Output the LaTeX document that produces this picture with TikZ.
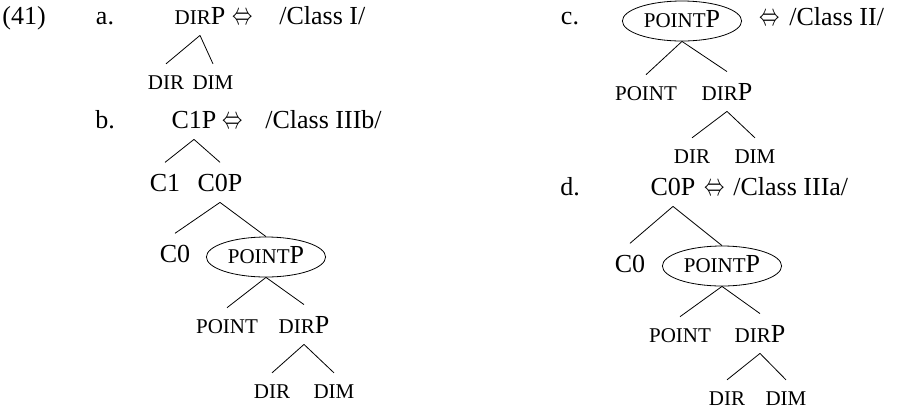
\documentclass[tikz,border=0pt]{standalone}
\usepackage{fontspec}
\setmainfont{Liberation Serif}
\usetikzlibrary{shapes.geometric,positioning}

\newcommand\fsc[1]{{\fontsize{10.5}{12}\selectfont #1}}
\newcommand\realizes{\scalebox{0.85}[1.3]{$\Leftrightarrow$}}

\begin{document}
\begin{tikzpicture}[
x=0.5pt,
y=-0.5pt,
font=\fontsize{13}{15}\selectfont,
every node/.style={
anchor=base,
inner xsep=1pt,
inner ysep=5.5pt,
text depth=0pt
},
circled/.style={
draw,
ellipse,
inner xsep=2pt,
inner ysep=0pt,
text height=6pt,
minimum height=20pt
},
iff/.style={inner sep=0pt},
cls/.style={anchor=base west, inner ysep=2pt}
]
\useasboundingbox (0,0) rectangle (902,409);

\node (ex) at (24,24) {(41)};

\node (la) at (105,24) {a.};
\node (a0) at (200,24) {\fsc{DIR}P};
\node[iff] (ai) at (243,24) {\realizes};
\node[cls] (ac) at (277,24) {/Class I/};
\node (a1) at (166,89) {\fsc{DIR}};
\node (a2) at (213,89) {\fsc{DIM}};

\draw (a0.south) -- (a1.north);
\draw (a0.south) -- (a2.north);

\node (lb) at (105,128) {b.};
\node (b0) at (194,128) {C1P};
\node[iff] (bi) at (233,128) {\realizes};
\node[cls] (bc) at (263,128) {/Class IIIb/};
\node (b1) at (165,191) {C1};
\node (b2) at (220,191) {C0P};
\node (b3) at (175,262) {C0};
\node[circled] (b4) at (266,263) {\fsc{POINT}P};
\node (b5) at (227,333) {\fsc{POINT}};
\node (b6) at (304,333) {\fsc{DIR}P};
\node (b7) at (272,398) {\fsc{DIR}};
\node (b8) at (334,398) {\fsc{DIM}};

\draw (b0.south) -- (b1.north);
\draw (b0.south) -- (b2.north);
\draw (b2.south) -- (b3.north);
\draw (b2.south) -- (b4.north);
\draw (b4.south) -- (b5.north);
\draw (b4.south) -- (b6.north);
\draw (b6.south) -- (b7.north);
\draw (b6.south) -- (b8.north);

\node (lc) at (570,24) {c.};
\node[circled] (c0) at (682,27) {\fsc{POINT}P};
\node[iff] (ci) at (770,25) {\realizes};
\node[cls] (cc) at (787,25) {/Class II/};
\node (c1) at (646,100) {\fsc{POINT}};
\node (c2) at (727,100) {\fsc{DIR}P};
\node (c3) at (692,163) {\fsc{DIR}};
\node (c4) at (755,163) {\fsc{DIM}};

\draw (c0.south) -- (c1.north);
\draw (c0.south) -- (c2.north);
\draw (c2.south) -- (c3.north);
\draw (c2.south) -- (c4.north);

\node (ld) at (570,195) {d.};
\node (d0) at (673,195) {C0P};
\node[iff] (di) at (715,195) {\realizes};
\node[cls] (dc) at (731,195) {/Class IIIa/};
\node (d1) at (630,272) {C0};
\node[circled] (d2) at (722,272) {\fsc{POINT}P};
\node (d3) at (680,342) {\fsc{POINT}};
\node (d4) at (760,342) {\fsc{DIR}P};
\node (d5) at (727,405) {\fsc{DIR}};
\node (d6) at (786,405) {\fsc{DIM}};

\draw (d0.south) -- (d1.north);
\draw (d0.south) -- (d2.north);
\draw (d2.south) -- (d3.north);
\draw (d2.south) -- (d4.north);
\draw (d4.south) -- (d5.north);
\draw (d4.south) -- (d6.north);

\end{tikzpicture}
\end{document}
